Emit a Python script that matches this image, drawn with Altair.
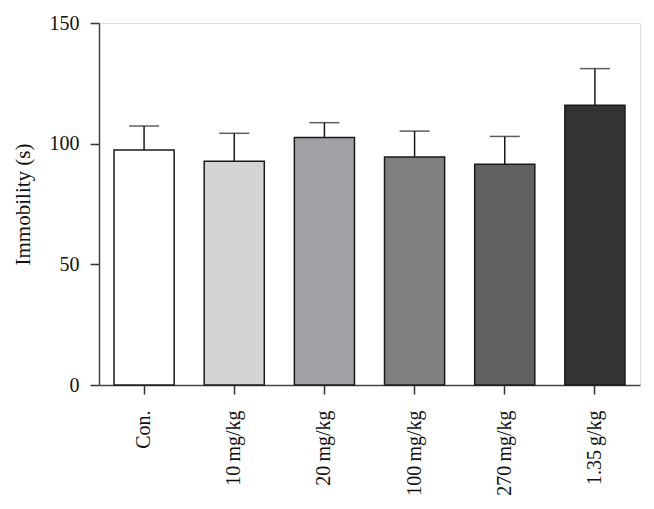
import altair as alt
import pandas as pd

groups = ["Con.", "10\u2009mg/kg", "20\u2009mg/kg", "100\u2009mg/kg", "270\u2009mg/kg", "1.35\u2009g/kg"]
means = [97.4, 92.7, 102.6, 94.5, 91.5, 115.9]
errors = [9.9, 11.6, 6.1, 10.7, 11.5, 15.2]
colors = ["#ffffff", "#d4d4d4", "#a2a1a5", "#808080", "#606060", "#333333"]

df = pd.DataFrame({
    "group": groups,
    "mean": means,
    "upper": [m + e for m, e in zip(means, errors)],
    "color": colors,
})

FONT = "Liberation Serif"

x = alt.X("group:N", sort=groups, title=None,
          scale=alt.Scale(paddingInner=1/3, paddingOuter=1/6),
          axis=alt.Axis(labelAngle=-90, labelFont=FONT, labelFontSize=20,
                        labelColor="#111", tickSize=9, tickColor="#333",
                        tickWidth=1.5, domainColor="#444", domainWidth=1.5,
                        labelPadding=16))
y_scale = alt.Scale(domain=[0, 150], nice=False)

base = alt.Chart(df)

bars = base.mark_bar(stroke="#1a1a1a", strokeWidth=1.5).encode(
    x=x,
    y=alt.Y("mean:Q", scale=y_scale, title="Immobility (s)",
            axis=alt.Axis(values=[0, 50, 100, 150], labelFont=FONT,
                          labelFontSize=20, labelColor="#111", titleFont=FONT,
                          titleFontSize=21, titleFontWeight="normal",
                          titleColor="#111", tickSize=9, tickColor="#333",
                          tickWidth=1.5, domainColor="#444", domainWidth=1.5,
                          grid=False, labelPadding=11, titlePadding=16)),
    fill=alt.Fill("color:N", scale=None),
)

rules = base.mark_rule(color="#1a1a1a", strokeWidth=1.5).encode(
    x=alt.X("group:N", sort=groups),
    y="mean:Q",
    y2="upper:Q",
)

caps = base.mark_tick(color="#1a1a1a", thickness=1.5, size=30).encode(
    x=alt.X("group:N", sort=groups),
    y="upper:Q",
)

chart = alt.layer(rules, bars, caps).properties(
    width=541, height=362,
    autosize=alt.AutoSizeParams(type="none"),
    padding={"left": 91, "top": 15, "right": 6, "bottom": 110},
).configure_view(stroke=None).configure(background="white")

chart.save("out.html", embed_options={"renderer": "svg", "actions": False})
